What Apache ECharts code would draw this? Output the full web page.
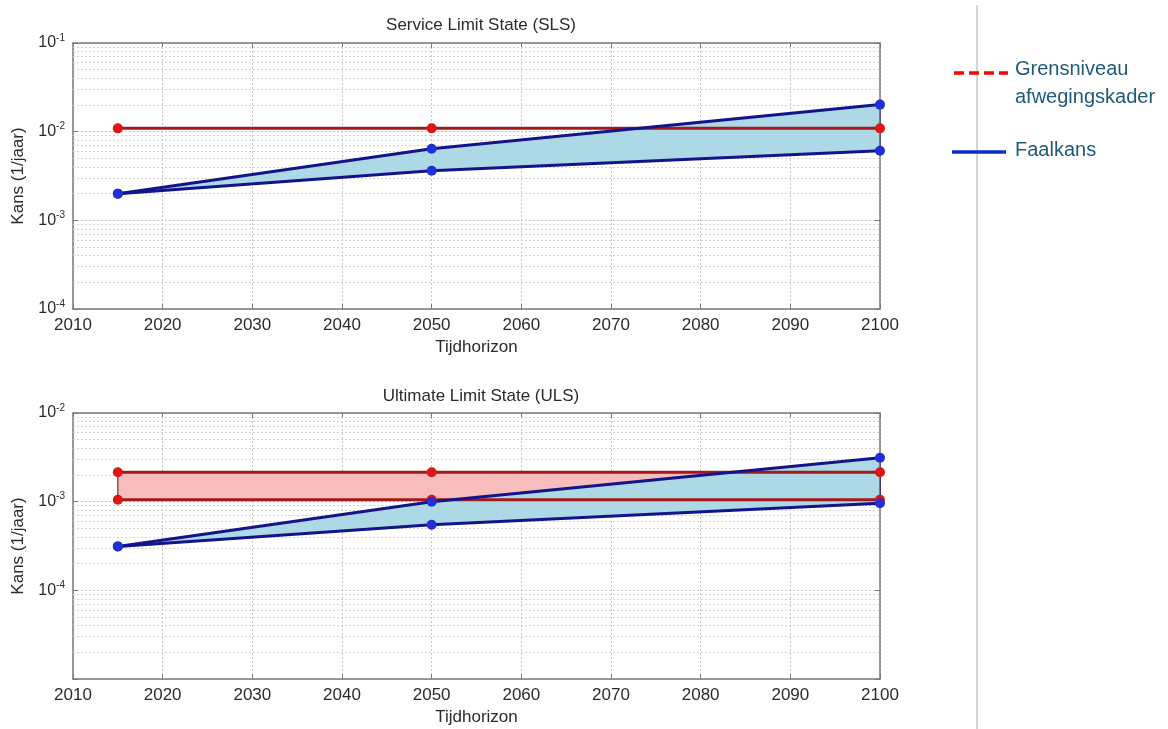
<!DOCTYPE html>
<html>
<head>
<meta charset="utf-8">
<script src="https://cdn.jsdelivr.net/npm/echarts@6/dist/echarts.min.js"></script>
<style>
  html, body { margin: 0; padding: 0; background: #fff; }
  #chart { width: 1168px; height: 729px; }
</style>
</head>
<body>
<div id="chart"></div>
<script>
// jaren op de tijdhorizon
const years = [2015, 2050, 2100];

// Service Limit State
const slsGrens = [1.09e-2, 1.09e-2, 1.09e-2];
const slsFaalLaag = [2.0e-3, 3.63e-3, 6.1e-3];
const slsFaalHoog = [2.0e-3, 6.42e-3, 2.02e-2];

// Ultimate Limit State
const ulsGrensLaag = [1.05e-3, 1.05e-3, 1.05e-3];
const ulsGrensHoog = [2.15e-3, 2.15e-3, 2.15e-3];
const ulsFaalLaag = [3.13e-4, 5.5e-4, 9.6e-4];
const ulsFaalHoog = [3.13e-4, 1.0e-3, 3.13e-3];

const xTicks = { min: 2010, max: 2100, interval: 10 };
const slsRange = [1e-4, 1e-1];
const ulsRange = [1e-5, 1e-2];

const chart = echarts.init(document.getElementById('chart'));

const axisGray = '#7a7a7a';
const textGray = '#2b2b2b';
const font = 'Liberation Sans, Arial, sans-serif';

function pairs(ys) {
    return years.map((x, i) => [x, ys[i]]);
}

// minor grid lines at 2..9 of every decade
function minorLines(range) {
    const out = [];
    for (let d = range[0]; d < range[1] * 0.99; d *= 10) {
        for (let k = 2; k <= 9; k++) out.push({ yAxis: d * k });
    }
    return out;
}

function powLabel(v, hideMin, min) {
    if (hideMin && Math.abs(v - min) / min < 0.01) return '';
    const e = Math.round(Math.log10(v));
    return '{b|10}{s|' + e + '}';
}

function band(grid, lo, hi, fill, stroke) {
    return {
        type: 'custom',
        xAxisIndex: grid * 2,
        yAxisIndex: grid * 2,
        z: 2,
        silent: true,
        data: years.map((x, i) => [x, lo[i], hi[i]]),
        renderItem: function (params, api) {
            if (params.dataIndex !== 0) return null;
            const pts = [];
            for (let i = 0; i < years.length; i++) pts.push(api.coord([years[i], hi[i]]));
            for (let i = years.length - 1; i >= 0; i--) pts.push(api.coord([years[i], lo[i]]));
            return {
                type: 'polygon',
                shape: { points: pts },
                style: { fill: fill, stroke: stroke, lineWidth: 1 }
            };
        }
    };
}

function line(grid, ys, color, marker) {
    return {
        type: 'line',
        xAxisIndex: grid * 2,
        yAxisIndex: grid * 2,
        z: 3,
        silent: true,
        data: pairs(ys),
        symbol: 'circle',
        symbolSize: 10,
        lineStyle: { color: color, width: 3 },
        itemStyle: { color: marker }
    };
}

function gridHost(grid, range) {
    return {
        type: 'line',
        xAxisIndex: grid * 2,
        yAxisIndex: grid * 2,
        z: 1,
        data: [],
        silent: true,
        markLine: {
            z: 1,
            silent: true,
            symbol: 'none',
            precision: 12,
            label: { show: false },
            lineStyle: { color: '#d2d2d2', type: [2, 2], width: 1 },
            data: minorLines(range)
        }
    };
}

function xAxes(grid) {
    return [
        {
            type: 'value', gridIndex: grid, min: xTicks.min, max: xTicks.max, interval: xTicks.interval,
            name: 'Tijdhorizon', nameLocation: 'middle', nameGap: 30,
            nameTextStyle: { fontFamily: font, fontSize: 17, color: textGray },
            axisLine: { lineStyle: { color: axisGray, width: 1.5 } },
            axisTick: { inside: true, length: 5, lineStyle: { color: axisGray } },
            axisLabel: { fontFamily: font, fontSize: 17, color: textGray, margin: 8, formatter: v => String(v) },
            splitLine: { show: true, lineStyle: { color: '#c4c4c4', type: [2, 2] } }
        },
        {
            type: 'value', gridIndex: grid, position: 'top', min: xTicks.min, max: xTicks.max, interval: xTicks.interval,
            axisLine: { show: true, lineStyle: { color: axisGray, width: 1.5 } },
            axisTick: { inside: true, length: 5, lineStyle: { color: axisGray } },
            axisLabel: { show: false },
            splitLine: { show: false }
        }
    ];
}

function yAxes(grid, range, hideMin) {
    return [
        {
            type: 'log', gridIndex: grid, min: range[0], max: range[1], logBase: 10,
            name: 'Kans (1/jaar)', nameLocation: 'middle', nameGap: 46, nameRotate: 90,
            nameTextStyle: { fontFamily: font, fontSize: 17, color: textGray },
            axisLine: { show: true, lineStyle: { color: axisGray, width: 1.5 } },
            axisTick: { inside: true, length: 5, lineStyle: { color: axisGray } },
            axisLabel: {
                margin: 8,
                formatter: v => powLabel(v, hideMin, range[0]),
                rich: {
                    b: { fontFamily: font, fontSize: 16, color: textGray, lineHeight: 20 },
                    s: { fontFamily: font, fontSize: 10, color: textGray, verticalAlign: 'top', lineHeight: 20, padding: [0, 0, 10, 0] }
                }
            },
            splitLine: { show: true, lineStyle: { color: '#c4c4c4', type: [2, 2] } }
        },
        {
            type: 'log', gridIndex: grid, position: 'right', min: range[0], max: range[1], logBase: 10,
            axisLine: { show: true, lineStyle: { color: axisGray, width: 1.5 } },
            axisTick: { inside: true, length: 5, lineStyle: { color: axisGray } },
            axisLabel: { show: false },
            splitLine: { show: false }
        }
    ];
}

const option = {
    backgroundColor: '#fff',
    animation: false,
    title: [
        { text: 'Service Limit State (SLS)', left: 476, top: 12, textAlign: 'center',
          textStyle: { fontFamily: font, fontSize: 17, fontWeight: 'normal', color: textGray } },
        { text: 'Ultimate Limit State (ULS)', left: 476, top: 383, textAlign: 'center',
          textStyle: { fontFamily: font, fontSize: 17, fontWeight: 'normal', color: textGray } }
    ],
    grid: [
        { left: 73, width: 807, top: 43, height: 266 },
        { left: 73, width: 807, top: 413, height: 266 }
    ],
    xAxis: [].concat(xAxes(0), xAxes(1)),
    yAxis: [].concat(yAxes(0, slsRange, false), yAxes(1, ulsRange, true)),
    series: [
        gridHost(0, slsRange),
        gridHost(1, ulsRange),
        band(0, slsFaalLaag, slsFaalHoog, '#add8e6', '#1a1a6a'),
        line(0, slsGrens, '#a41a1a', '#e01515'),
        line(0, slsFaalHoog, '#14148a', '#1f30d8'),
        line(0, slsFaalLaag, '#14148a', '#1f30d8'),
        band(1, ulsGrensLaag, ulsGrensHoog, '#f7bcbc', '#5a1010'),
        band(1, ulsFaalLaag, ulsFaalHoog, '#add8e6', '#1a1a6a'),
        line(1, ulsGrensHoog, '#a41a1a', '#e01515'),
        line(1, ulsGrensLaag, '#a41a1a', '#e01515'),
        line(1, ulsFaalHoog, '#14148a', '#1f30d8'),
        line(1, ulsFaalLaag, '#14148a', '#1f30d8')
    ],
    graphic: [
        { type: 'line', shape: { x1: 977, y1: 5, x2: 977, y2: 729 }, style: { stroke: '#d6d6d6', lineWidth: 2 } },
        { type: 'line', shape: { x1: 954, y1: 73, x2: 1008, y2: 73 }, style: { stroke: '#ff0000', lineWidth: 3.5, lineDash: [10, 5] } },
        { type: 'text', left: 1015, top: 55, style: { text: 'Grensniveau\nafwegingskader', fill: '#1f5a7a', font: '20px ' + font, lineHeight: 28 } },
        { type: 'line', shape: { x1: 952, y1: 152, x2: 1006, y2: 152 }, style: { stroke: '#0a2fc8', lineWidth: 3.5 } },
        { type: 'text', left: 1015, top: 140, style: { text: 'Faalkans', fill: '#1f5a7a', font: '20px ' + font } }
    ]
};

chart.setOption(option);
</script>
</body>
</html>
